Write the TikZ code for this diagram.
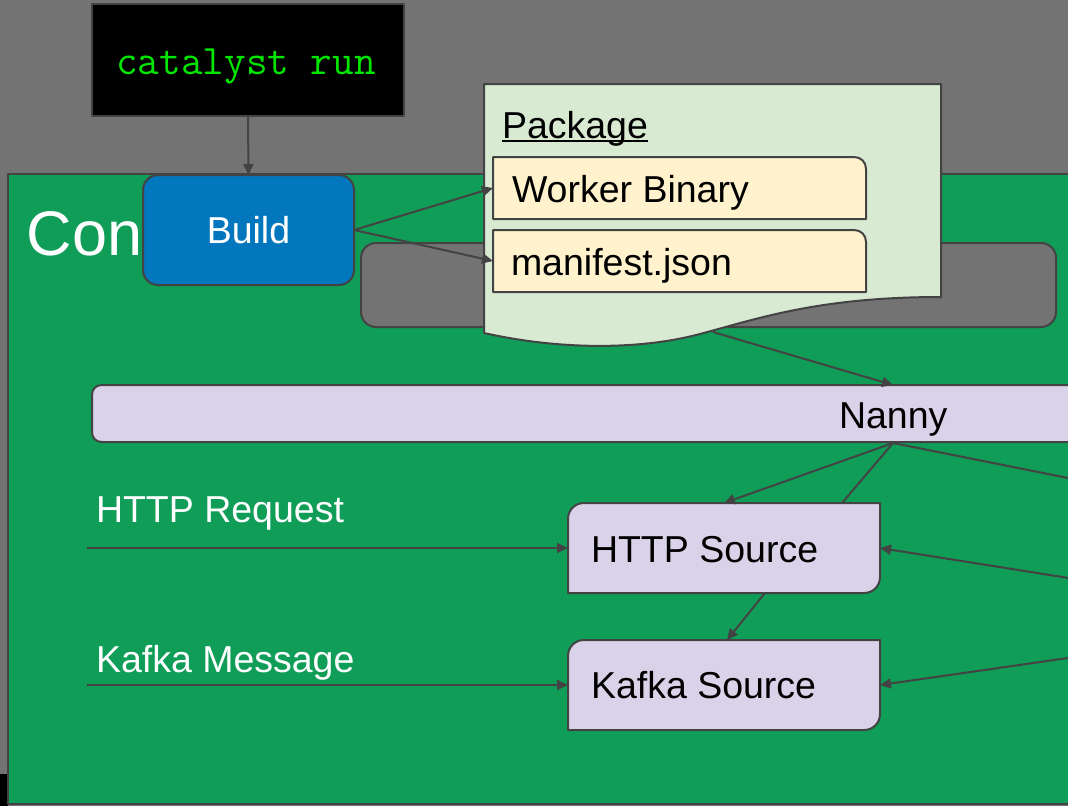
\documentclass[tikz,border=0pt]{standalone}
\usepackage{fontspec}
\setmainfont{Liberation Sans}
\usetikzlibrary{arrows.meta,calc}

\definecolor{bggray}{HTML}{737373}
\definecolor{panelgreen}{HTML}{0F9D58}
\definecolor{buildblue}{HTML}{0277BD}
\definecolor{edge}{HTML}{434343}
\definecolor{pkgfill}{HTML}{D9EAD3}
\definecolor{filefill}{HTML}{FFF2CC}
\definecolor{lavender}{HTML}{D9D2E9}
\definecolor{termgreen}{HTML}{00E600}

\tikzset{
  frame/.style 2 args={inner sep=0pt, outer sep=0pt, minimum width=#1, minimum height=#2},
  outline/.style={draw=edge, line width=2pt, line join=round},
  link/.style={draw=edge, line width=2pt},
  flow/.style={link, -{Triangle[length=11pt,width=10pt]}},
  txt/.style={inner sep=0pt, outer sep=0pt, font=\fontsize{37.5}{40}\selectfont},
}

\begin{document}
\begin{tikzpicture}[x=1pt, y=-1pt]
  \useasboundingbox (0,0) rectangle (1068,806);
  \clip (0,0) rectangle (1068,806);

  % backdrop
  \fill[bggray] (0,0) rectangle (1068,806);
  \fill[black] (0,774) rectangle (8,806);

  % container panel
  \node[frame={1112pt}{630pt}, outline, fill=panelgreen] (panel) at (564,489) {};
  \node[txt, anchor=base west, text=white, font=\fontsize{63}{70}\selectfont] (contitle) at (27,255) {Con};

  % runtime slot
  \node[frame={695pt}{84pt}, outline, fill=bggray, rounded corners=15pt] (slot) at (708.5,285) {};

  % command
  \node[frame={312pt}{112pt}, outline, fill=black] (run) at (248,60) {};
  \node[txt, anchor=base, text=termgreen, font=\ttfamily\fontsize{42}{44}\selectfont] (runtext) at (246,74) {catalyst run};

  % build step
  \node[frame={211pt}{110pt}, outline, fill=buildblue, rounded corners=15pt,
        text=white, font=\fontsize{37.5}{40}\selectfont] (build) at (248.5,230) {Build};

  % package document
  \node[frame={457pt}{213pt}] (pkg) at (712.5,190.5) {};
  \path[outline, fill=pkgfill]
    (pkg.south west |- 0,333) -- (pkg.north west) -- (pkg.north east) -- (pkg.south east)
    .. controls (820,297) and (760,318) .. (700,334)
    .. controls (640,350) and (560,350) .. (484,333) -- cycle;
  \coordinate (pkgout) at (713,332);
  \node[txt, anchor=base west] (pkgtitle) at (502,138) {Package};
  \draw[line width=2pt] ([yshift=-3pt]pkgtitle.base west) -- ([yshift=-3pt]pkgtitle.base east);

  % package contents (top right corner rounded)
  \node[frame={373pt}{62pt}] (worker) at (679.5,188) {};
  \node[frame={373pt}{62pt}] (manifest) at (679.5,261) {};
  \foreach \name in {worker, manifest} {
    \path[outline, fill=filefill]
      (\name.south west) -- (\name.north west) -- ($(\name.north east)+(-12,0)$)
      .. controls ($(\name.north east)+(-5,0)$) and ($(\name.north east)+(0,5)$) .. ($(\name.north east)+(0,12)$)
      -- (\name.south east) -- cycle;
  }
  \node[txt, anchor=base west] (workertext) at (512,202) {Worker Binary};
  \node[txt, anchor=base west] (manifesttext) at (511,275) {manifest.json};

  % nanny bar
  \node[frame={1008pt}{57pt}] (nanny) at (596,413.5) {};
  \path[outline, fill=lavender]
    ($(nanny.south west)+(10,0)$) .. controls ($(nanny.south west)+(4,0)$) and ($(nanny.south west)+(0,-4)$) .. ($(nanny.south west)+(0,-10)$)
    -- ($(nanny.north west)+(0,10)$) .. controls ($(nanny.north west)+(0,4)$) and ($(nanny.north west)+(4,0)$) .. ($(nanny.north west)+(10,0)$)
    -- (nanny.north east) -- (nanny.south east) -- cycle;
  \node[txt, anchor=base west] (nannytext) at (839,428) {Nanny};
  \coordinate (nannyin) at (893,385);
  \coordinate (nannyout) at (893,443);

  % sources (top left and bottom right corners rounded)
  \node[frame={312pt}{90pt}] (http) at (724,548) {};
  \node[frame={312pt}{90pt}] (kafka) at (724,685) {};
  \foreach \name in {http, kafka} {
    \path[outline, fill=lavender]
      (\name.south west) -- ($(\name.north west)+(0,16)$)
      .. controls ($(\name.north west)+(0,7)$) and ($(\name.north west)+(7,0)$) .. ($(\name.north west)+(16,0)$)
      -- (\name.north east) -- ($(\name.south east)+(0,-16)$)
      .. controls ($(\name.south east)+(0,-7)$) and ($(\name.south east)+(-7,0)$) .. ($(\name.south east)+(-16,0)$) -- cycle;
  }
  \node[txt, anchor=base west] (httptext) at (591,562) {HTTP Source};
  \node[txt, anchor=base west] (kafkatext) at (591,698) {Kafka Source};

  % incoming events
  \node[txt, anchor=base west, text=white] (reqtext) at (96,522) {HTTP Request};
  \node[txt, anchor=base west, text=white] (msgtext) at (96,672) {Kafka Message};
  \coordinate (reqsrc) at (87,548);
  \coordinate (msgsrc) at (87,685);

  % off-panel ends
  \coordinate (eastA) at (1100,484.4);
  \coordinate (eastB) at (1100,583);
  \coordinate (eastC) at (1100,653.4);

  % connectors
  \draw[flow] (run.south) -- (build.north);
  \draw[flow] (build.east) -- (worker.west);
  \draw[flow] (build.east) -- (manifest.west);
  \draw[flow] (pkgout) -- (nannyin);
  \draw[flow] (nannyout) -- (http.north);
  \draw[link] (nannyout) -- ($(http.north east)+(-38,0)$);
  \draw[link] (nannyout) -- (eastA);
  \draw[flow] (eastB) -- (http.east);
  \draw[flow] (eastC) -- (kafka.east);
  \draw[flow] ($(http.south)+(41,0)$) -- ($(kafka.north)+(3,0)$);
  \draw[flow] (reqsrc) -- (http.west);
  \draw[flow] (msgsrc) -- (kafka.west);
\end{tikzpicture}
\end{document}
